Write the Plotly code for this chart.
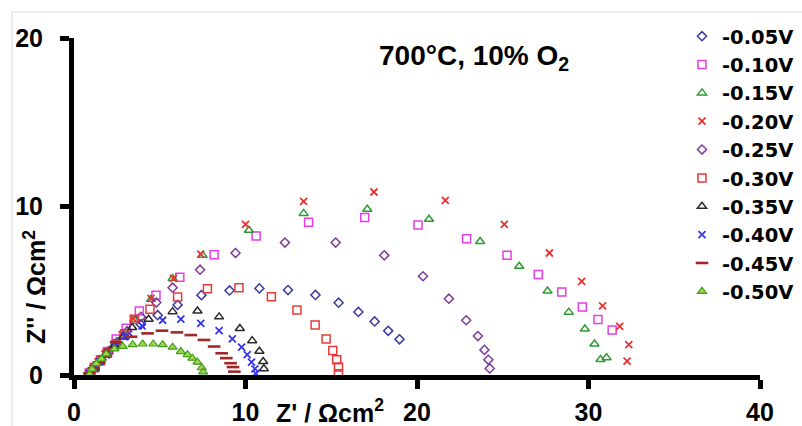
import plotly.graph_objects as go

# ---- data (Z' and Z'' in ohm cm^2) ----
series_names = ["-0.05V", "-0.10V", "-0.15V", "-0.20V", "-0.25V",
                "-0.30V", "-0.35V", "-0.40V", "-0.45V", "-0.50V"]

x_005 = [0.9, 1.2, 1.55, 2.0, 2.5, 3.1, 3.9, 4.88, 6.04, 7.43, 9.07, 10.81, 12.48, 14.08, 15.43, 16.58, 17.53, 18.32, 18.98]
y_005 = [0.1, 0.4, 0.85, 1.3, 1.8, 2.35, 3.0, 3.55, 4.16, 4.74, 5.02, 5.14, 5.04, 4.75, 4.29, 3.74, 3.18, 2.62, 2.12]

x_010 = [0.9, 1.2, 1.55, 1.95, 2.46, 3.04, 3.81, 4.78, 6.17, 8.17, 10.62, 13.68, 16.95, 20.06, 22.89, 25.25, 27.07, 28.44, 29.64, 30.55, 31.38]
y_010 = [0.1, 0.45, 0.9, 1.4, 2.14, 2.78, 3.8, 4.73, 5.8, 7.14, 8.25, 9.06, 9.35, 8.9, 8.08, 7.1, 5.96, 4.92, 4.04, 3.29, 2.67]

x_015 = [0.95, 1.15, 1.45, 1.85, 2.35, 2.9, 3.5, 4.49, 5.75, 7.5, 10.2, 13.39, 17.1, 20.7, 23.68, 25.96, 27.61, 28.85, 29.79, 30.35, 31.05, 30.7]
y_015 = [0.1, 0.4, 0.8, 1.25, 1.8, 2.45, 3.3, 4.49, 5.73, 7.1, 8.59, 9.59, 9.84, 9.24, 7.92, 6.45, 4.98, 3.73, 2.73, 1.84, 1.02, 0.92]

x_020 = [0.9, 1.1, 1.4, 1.8, 2.3, 2.8, 3.46, 4.49, 5.80, 7.39, 10.0, 13.39, 17.49, 21.65, 25.09, 27.72, 29.6, 30.82, 31.82, 32.35, 32.25]
y_020 = [0.1, 0.4, 0.8, 1.25, 1.8, 2.4, 3.35, 4.55, 5.73, 7.18, 8.94, 10.31, 10.86, 10.37, 8.94, 7.24, 5.55, 4.1, 2.88, 1.8, 0.82]

x_025 = [0.9, 1.2, 1.6, 2.0, 2.5, 3.1, 3.9, 4.8, 5.75, 7.35, 9.42, 12.3, 15.26, 18.09, 20.35, 21.86, 22.87, 23.55, 23.93, 24.16, 24.24]
y_025 = [0.1, 0.45, 0.9, 1.4, 1.95, 2.6, 3.45, 4.3, 5.18, 6.25, 7.24, 7.86, 7.86, 7.1, 5.86, 4.53, 3.25, 2.31, 1.49, 0.9, 0.39]

x_030 = [0.9, 1.2, 1.55, 1.95, 2.45, 2.95, 3.52, 4.43, 6.04, 7.78, 9.62, 11.51, 13.0, 14.06, 14.7, 15.09, 15.32, 15.42, 15.42]
y_030 = [0.1, 0.45, 0.85, 1.3, 1.85, 2.45, 3.31, 3.9, 4.63, 5.12, 5.18, 4.65, 3.86, 2.96, 2.14, 1.45, 0.9, 0.47, 0.08]

x_035 = [0.9, 1.2, 1.5, 1.9, 2.35, 2.85, 3.39, 4.35, 5.75, 7.2, 8.46, 9.67, 10.39, 10.81, 11.03, 11.07]
y_035 = [0.1, 0.4, 0.8, 1.25, 1.75, 2.25, 2.82, 3.31, 3.76, 3.8, 3.45, 2.76, 2.04, 1.41, 0.8, 0.37]

x_040 = [0.9, 1.2, 1.5, 1.9, 2.4, 3.0, 3.97, 5.17, 6.23, 7.39, 8.46, 9.23, 9.77, 10.1, 10.35, 10.55, 10.6]
y_040 = [0.1, 0.4, 0.8, 1.2, 1.7, 2.3, 2.92, 3.25, 3.31, 3.06, 2.63, 2.14, 1.65, 1.21, 0.76, 0.37, 0.1]

x_045 = [0.9, 1.15, 1.45, 1.8, 2.1, 2.46, 3.33, 4.29, 5.13, 6.0, 6.81, 7.58, 8.17, 8.61, 8.88, 9.13, 9.27, 9.35]
y_045 = [0.1, 0.4, 0.75, 1.1, 1.5, 1.94, 2.27, 2.47, 2.63, 2.53, 2.37, 2.08, 1.69, 1.29, 1.0, 0.7, 0.47, 0.2]

x_050 = [0.91, 1.05, 1.3, 1.6, 1.88, 2.36, 2.84, 3.42, 4.0, 4.62, 5.17, 5.75, 6.23, 6.62, 6.9, 7.2, 7.45, 7.53]
y_050 = [0.05, 0.35, 0.67, 0.95, 1.25, 1.55, 1.7, 1.8, 1.84, 1.84, 1.8, 1.65, 1.39, 1.21, 1.0, 0.76, 0.43, 0.18]

xs = [x_005, x_010, x_015, x_020, x_025, x_030, x_035, x_040, x_045, x_050]
ys = [y_005, y_010, y_015, y_020, y_025, y_030, y_035, y_040, y_045, y_050]

x_ticks = [0, 10, 20, 30, 40]
y_ticks = [0, 10, 20]

# ---- styles ----
styles = [
    dict(symbol="diamond-open", size=7, color="#3a3a9e", lw=1.5),
    dict(symbol="square-open", size=8, color="#e43ee4", lw=1.5),
    dict(symbol="triangle-up-open", size=8, color="#2f9a35", lw=1.5),
    dict(symbol="x-thin", size=7, color="#e83232", lw=1.8),
    dict(symbol="diamond-open", size=7, color="#7d3c9a", lw=1.5),
    dict(symbol="square-open", size=8, color="#e83a3a", lw=1.5),
    dict(symbol="triangle-up-open", size=8, color="#2a2a2a", lw=1.5),
    dict(symbol="x-thin", size=7, color="#3535f0", lw=1.8),
    dict(symbol="line-ew", size=9, color="#a02828", lw=2.6),
    dict(symbol="triangle-up", size=8, color="#a6d448", lw=1.2, line="#3fa020"),
]

FONT = "Liberation Sans, Arial, sans-serif"

fig = go.Figure()
for name, xv, yv, st in zip(series_names, xs, ys, styles):
    fig.add_trace(go.Scatter(
        x=xv, y=yv, mode="markers", name=name, cliponaxis=False,
        marker=dict(symbol=st["symbol"], size=st["size"], color=st["color"],
                    line=dict(width=st["lw"], color=st.get("line", st["color"]))),
    ))

axis_common = dict(showgrid=False, zeroline=False, showline=True, linewidth=5,
                   linecolor="black", ticks="outside", ticklen=9, tickwidth=5,
                   tickcolor="black",
                   tickfont=dict(family=FONT, size=25, color="black", weight="bold"))

fig.update_layout(
    width=802, height=426,
    margin=dict(l=74, r=42, t=38, b=51, autoexpand=False),
    paper_bgcolor="white", plot_bgcolor="white",
    xaxis=dict(range=[0, 40], tickvals=x_ticks, ticktext=[str(v) for v in x_ticks],
               ticklabelstandoff=2, **axis_common),
    yaxis=dict(range=[0, 20], tickvals=y_ticks, ticktext=[str(v) for v in y_ticks],
               ticklabelstandoff=12, **axis_common),
    xaxis2=dict(overlaying="x", anchor="y", side="bottom", range=[0, 40],
                tickvals=x_ticks, ticks="inside", ticklen=9, tickwidth=5,
                tickcolor="black", showticklabels=False, showgrid=False,
                zeroline=False, showline=False),
    yaxis2=dict(overlaying="y", anchor="x", side="left", range=[0, 20],
                tickvals=y_ticks, ticks="inside", ticklen=9, tickwidth=5,
                tickcolor="black", showticklabels=False, showgrid=False,
                zeroline=False, showline=False),
    showlegend=True,
    legend=dict(x=0.8863, y=1.0623, xanchor="left", yanchor="top", maxheight=400,
                bgcolor="rgba(0,0,0,0)", borderwidth=0,
                font=dict(family="DejaVu Sans, sans-serif", size=19.5,
                          color="black", weight="bold")),
    shapes=[dict(type="rect", xref="paper", yref="paper", layer="below",
                 x0=-0.0904, x1=1.3, y0=-0.4, y1=1.0772,
                 line=dict(color="#d9d9d9", width=1))],
    annotations=[
        dict(text="700°C, 10% O<sub>2</sub>", xref="paper", yref="paper",
             x=0.5831, y=0.9436, xanchor="center", yanchor="middle", showarrow=False,
             font=dict(family=FONT, size=28, color="black", weight="bold")),
        dict(text="Z' / Ωcm<sup>2</sup>", xref="paper", yref="paper",
             x=0.3732, y=-0.1068, xanchor="center", yanchor="middle", showarrow=False,
             font=dict(family=FONT, size=25, color="black", weight="bold")),
        dict(text="Z'' / Ωcm<sup>2</sup>", xref="paper", yref="paper", textangle=-90,
             x=-0.0569, y=0.2611, xanchor="center", yanchor="middle", showarrow=False,
             font=dict(family=FONT, size=25, color="black", weight="bold")),
    ],
)

fig.write_html("out.html")
